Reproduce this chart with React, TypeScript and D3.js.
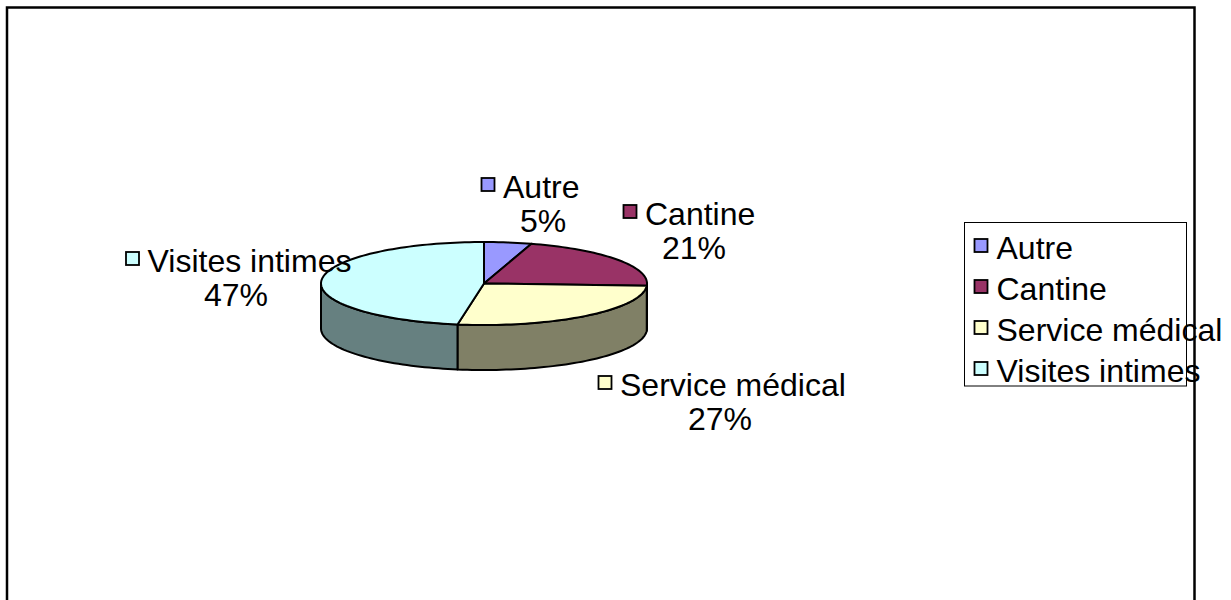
import React, { useRef, useEffect } from 'react';
import * as d3 from 'd3';

// Data (labels show these rounded)
const categories = ['Autre', 'Cantine', 'Service médical', 'Visites intimes'];
const shares = [4.7, 21.2, 26.7, 47.4];
const topColors = ['#9999FF', '#993366', '#FFFFCC', '#CCFFFF'];
const sideColors = ['#4D4D80', '#4D1A33', '#808066', '#668080'];

const FONT = '"Liberation Sans", Arial, sans-serif';
const FONT_SIZE = 32;

const App = () => {
  const chartRef = useRef<SVGSVGElement | null>(null);

  useEffect(() => {
    const width = 1231;
    const height = 600;

    const svg = d3.select(chartRef.current);
    svg.selectAll('*').remove();

    // Outer frame runs past the bottom of the picture
    svg.append('rect')
      .attr('x', 7)
      .attr('y', 7.5)
      .attr('width', 1187.5)
      .attr('height', height)
      .attr('fill', '#fff')
      .attr('stroke', '#000')
      .attr('stroke-width', 2.5);

    // Pie geometry
    const cx = 484;
    const cy = 283.5;
    const rx = 163;
    const ry = 41.5;
    const depth = 45;

    const pie = d3.pie<number>().sort(null).value(d => d);
    const arcs = pie(shares);

    // Angle 0 is at the top, going clockwise, squashed to an ellipse
    const px = (a: number) => cx + rx * Math.sin(a);
    const py = (a: number) => cy - ry * Math.cos(a);
    const line = d3.line();

    const rimPoints = (a0: number, a1: number, dy = 0): [number, number][] => {
      const n = Math.max(2, Math.ceil((a1 - a0) / 0.03));
      return d3.range(n + 1).map(i => {
        const a = a0 + ((a1 - a0) * i) / n;
        return [px(a), py(a) + dy] as [number, number];
      });
    };

    // Side walls only on the front half of the pie
    arcs.forEach((d, i) => {
      const a0 = Math.max(d.startAngle, Math.PI / 2);
      const a1 = Math.min(d.endAngle, (Math.PI * 3) / 2);
      if (a1 <= a0) return;
      const pts = [...rimPoints(a0, a1), ...rimPoints(a0, a1, depth).reverse()];
      svg.append('path')
        .attr('d', line(pts) + 'Z')
        .attr('fill', sideColors[i])
        .attr('stroke', '#000')
        .attr('stroke-width', 2)
        .attr('stroke-linejoin', 'round');
    });

    // Top slices
    arcs.forEach((d, i) => {
      const pts = [[cx, cy] as [number, number], ...rimPoints(d.startAngle, d.endAngle)];
      svg.append('path')
        .attr('d', line(pts) + 'Z')
        .attr('fill', topColors[i])
        .attr('stroke', '#000')
        .attr('stroke-width', 2)
        .attr('stroke-linejoin', 'round');
    });

    const addText = (x: number, y: number, str: string, anchor = 'start') =>
      svg.append('text')
        .attr('x', x)
        .attr('y', y)
        .attr('text-anchor', anchor)
        .attr('font-family', FONT)
        .attr('font-size', FONT_SIZE)
        .attr('fill', '#000')
        .text(str);

    const addKey = (x: number, y: number, i: number) =>
      svg.append('rect')
        .attr('x', x)
        .attr('y', y)
        .attr('width', 13)
        .attr('height', 13)
        .attr('fill', topColors[i])
        .attr('stroke', '#000')
        .attr('stroke-width', 1.8);

    // Data labels: key + name on one line, percent centred under it
    const labelPos = [
      { key: 481.5, y: 197, pct: 543 },
      { key: 623.5, y: 224, pct: 694 },
      { key: 598.5, y: 395, pct: 720 },
      { key: 126, y: 271, pct: 236 },
    ];
    labelPos.forEach((p, i) => {
      addKey(p.key, p.y - 19, i);
      addText(p.key + 21.5, p.y + 0.5, categories[i]);
      addText(p.pct, p.y + 34.5, `${Math.round(shares[i])}%`, 'middle');
    });

    // Legend
    svg.append('rect')
      .attr('x', 964.5)
      .attr('y', 222.5)
      .attr('width', 222)
      .attr('height', 163.5)
      .attr('fill', 'none')
      .attr('stroke', '#000')
      .attr('stroke-width', 1);

    const legendY = d3.scalePoint<string>()
      .domain(categories)
      .range([258, 381]);

    categories.forEach((c, i) => {
      const y = legendY(c) as number;
      addKey(974.5, y - 19, i);
      addText(996.5, y + 0.5, c);
    });

    svg.attr('width', width).attr('height', height);
  }, []);

  return (
    <svg
      ref={chartRef}
      style={{ position: 'absolute', left: 0, top: 0, background: '#fff' }}
    />
  );
};

export default App;
